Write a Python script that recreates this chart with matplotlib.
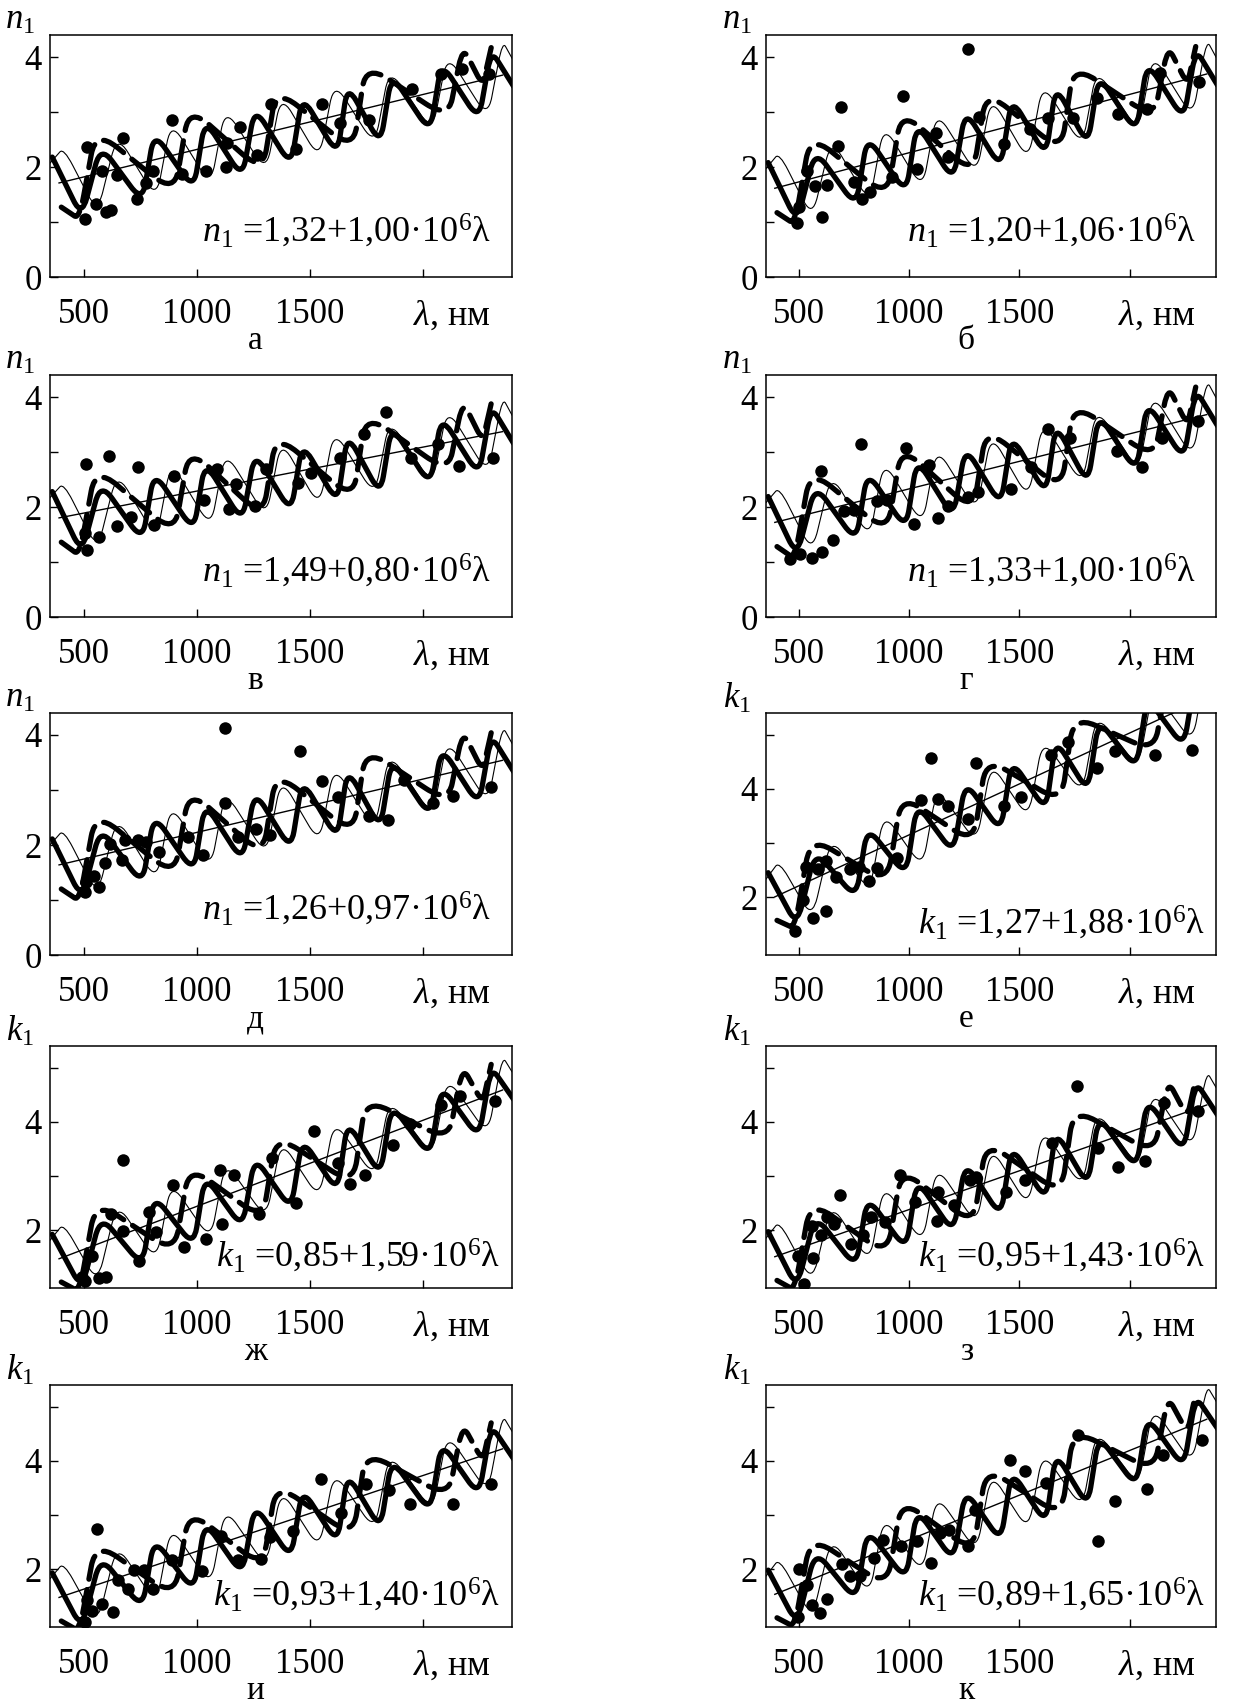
import numpy as np
import matplotlib
matplotlib.use("Agg")
import matplotlib.pyplot as plt
from matplotlib.path import Path
from matplotlib.patches import PathPatch

plt.rcParams['font.family'] = ['Liberation Serif', 'DejaVu Serif']
plt.rcParams['mathtext.fontset'] = 'custom'
plt.rcParams['mathtext.rm'] = 'Liberation Serif'
plt.rcParams['mathtext.it'] = 'Liberation Serif:italic'

# turning points (wavelength, nm) of the three model curves, same for every panel
LAM_SOLID = [360, 490, 574, 758, 810, 985, 1035, 1200, 1255, 1415, 1465, 1620, 1665, 1810, 1860, 2030, 2080, 2245, 2300, 2400]
LAM_THIN = [350, 410, 560, 646, 820, 885, 1060, 1125, 1305, 1372, 1540, 1606, 1785, 1850, 2040, 2106, 2285, 2350, 2400]
LAM_DASH = [400, 480, 552, 900, 965, 1290, 1350, 1690, 1746, 2110, 2174, 2262, 2300]
# range of the fitted straight line
FIT_RANGE = [390, 2350]

# ---- а ----
fit_a = (1.32, 1.00)
solid_a = [2.18, 1.09, 2.39, 1.36, 2.63, 1.59, 2.86, 1.80, 3.08, 2.02, 3.29, 2.22, 3.49, 2.41, 3.68, 2.63, 3.90, 2.85, 4.12, 3.46]
thin_a = [2.07, 2.35, 1.16, 2.59, 1.42, 2.83, 1.66, 3.07, 1.91, 3.31, 2.14, 3.55, 2.39, 3.79, 2.64, 4.05, 2.89, 4.29, 3.92]
dash_a = [1.27, 1.05, 2.67, 1.52, 3.09, 1.91, 3.42, 2.31, 3.87, 2.88, 4.19, 3.48, 4.17]
pts_lam_a = [515, 504, 552, 581, 596, 618, 647, 673, 736, 773, 805, 888, 935, 1038, 1127, 1131, 1189, 1267, 1326, 1437, 1552, 1631, 1761, 1950, 2078, 2171, 2289]
pts_a = [2.36, 1.06, 1.33, 1.93, 1.18, 1.21, 1.85, 2.52, 1.42, 1.71, 1.93, 2.85, 1.88, 1.92, 2.00, 2.44, 2.73, 2.21, 3.14, 2.33, 3.14, 2.80, 2.85, 3.41, 3.70, 3.79, 3.70]

# ---- б ----
fit_b = (1.20, 1.06)
solid_b = [2.08, 1.00, 2.31, 1.28, 2.56, 1.52, 2.80, 1.75, 3.03, 1.98, 3.25, 2.20, 3.47, 2.40, 3.67, 2.63, 3.91, 2.86, 4.14, 3.48]
thin_b = [1.97, 2.26, 1.07, 2.51, 1.35, 2.76, 1.60, 3.01, 1.86, 3.27, 2.11, 3.52, 2.37, 3.78, 2.64, 4.05, 2.90, 4.31, 3.94]
dash_b = [1.17, 0.96, 2.59, 1.45, 3.02, 1.87, 3.38, 2.29, 3.85, 2.89, 4.20, 3.50, 4.19]
pts_lam_b = [492, 502, 535, 573, 603, 626, 675, 690, 751, 786, 824, 923, 972, 1037, 1121, 1174, 1265, 1318, 1429, 1546, 1630, 1744, 1851, 1946, 2079, 2140, 2315]
pts_b = [0.98, 1.28, 1.93, 1.65, 1.09, 1.67, 2.38, 3.09, 1.73, 1.41, 1.55, 1.82, 3.29, 1.96, 2.61, 2.18, 4.15, 2.91, 2.41, 2.70, 2.90, 2.90, 3.25, 2.97, 3.06, 3.71, 3.55]

# ---- в ----
fit_v = (1.49, 0.80)
solid_v = [2.28, 1.16, 2.45, 1.38, 2.64, 1.56, 2.82, 1.73, 2.99, 1.90, 3.16, 2.07, 3.32, 2.22, 3.48, 2.39, 3.65, 2.57, 3.83, 3.15]
thin_v = [2.17, 2.44, 1.22, 2.63, 1.43, 2.82, 1.62, 3.01, 1.81, 3.21, 2.00, 3.40, 2.20, 3.59, 2.40, 3.80, 2.60, 3.99, 3.61]
dash_v = [1.36, 1.12, 2.73, 1.51, 3.06, 1.82, 3.32, 2.14, 3.69, 2.63, 3.93, 3.20, 3.88]
pts_lam_v = [504, 510, 515, 566, 611, 648, 707, 740, 810, 898, 1031, 1090, 1142, 1171, 1257, 1304, 1448, 1503, 1631, 1739, 1835, 1946, 2064, 2159, 2307]
pts_v = [1.52, 2.79, 1.21, 1.45, 2.93, 1.65, 1.82, 2.72, 1.67, 2.57, 2.13, 2.69, 1.96, 2.42, 2.02, 2.69, 2.43, 2.61, 2.89, 3.32, 3.73, 2.89, 3.15, 2.75, 2.89]

# ---- г ----
fit_g = (1.33, 1.00)
solid_g = [2.19, 1.10, 2.40, 1.37, 2.64, 1.60, 2.87, 1.81, 3.09, 2.03, 3.30, 2.23, 3.50, 2.42, 3.69, 2.64, 3.91, 2.86, 4.13, 3.47]
thin_g = [2.08, 2.36, 1.17, 2.60, 1.43, 2.84, 1.67, 3.08, 1.92, 3.32, 2.15, 3.56, 2.40, 3.80, 2.65, 4.06, 2.90, 4.30, 3.93]
dash_g = [1.28, 1.06, 2.68, 1.53, 3.10, 1.92, 3.43, 2.32, 3.88, 2.89, 4.20, 3.49, 4.18]
pts_lam_g = [459, 505, 558, 599, 603, 654, 702, 751, 783, 854, 897, 984, 1022, 1090, 1131, 1177, 1265, 1311, 1463, 1554, 1630, 1729, 1942, 2056, 2147, 2311]
pts_g = [1.06, 1.14, 1.08, 2.66, 1.18, 1.40, 1.93, 1.95, 3.14, 2.11, 2.13, 3.08, 1.70, 2.77, 1.80, 2.01, 2.18, 2.27, 2.33, 2.72, 3.41, 3.26, 3.02, 2.72, 3.26, 3.56]

# ---- д ----
fit_d = (1.26, 0.97)
solid_d = [2.11, 1.02, 2.32, 1.28, 2.55, 1.50, 2.76, 1.70, 2.98, 1.91, 3.18, 2.11, 3.38, 2.30, 3.56, 2.51, 3.78, 2.72, 3.99, 3.33]
thin_d = [2.00, 2.28, 1.08, 2.51, 1.34, 2.74, 1.57, 2.97, 1.81, 3.21, 2.03, 3.44, 2.27, 3.68, 2.52, 3.92, 2.76, 4.16, 3.79]
dash_d = [1.20, 0.98, 2.60, 1.43, 3.00, 1.81, 3.32, 2.20, 3.75, 2.76, 4.07, 3.35, 4.04]
pts_lam_d = [504, 510, 544, 566, 593, 614, 670, 681, 740, 773, 832, 962, 1027, 1124, 1124, 1183, 1260, 1322, 1456, 1552, 1625, 1758, 1842, 1916, 2041, 2133, 2300]
pts_d = [1.15, 1.32, 1.44, 1.23, 1.67, 2.01, 1.72, 2.09, 2.09, 2.05, 1.88, 2.14, 1.82, 4.13, 2.76, 2.15, 2.29, 2.19, 3.70, 3.17, 2.88, 2.53, 2.45, 3.18, 2.76, 2.90, 3.06]

# ---- е ----
fit_e = (1.27, 1.88)
solid_e = [2.45, 1.47, 2.85, 1.98, 3.29, 2.40, 3.72, 2.81, 4.13, 3.21, 4.52, 3.60, 4.90, 3.95, 5.27, 4.37, 5.68, 4.77, 6.09, 5.52]
thin_e = [2.33, 2.66, 1.60, 3.10, 2.09, 3.55, 2.54, 4.01, 3.00, 4.47, 3.45, 4.91, 3.91, 5.37, 4.39, 5.85, 4.85, 6.31, 5.98]
dash_e = [1.57, 1.42, 3.11, 2.26, 3.88, 3.00, 4.56, 3.75, 5.35, 4.69, 6.06, 5.42, 6.14]
pts_lam_e = [482, 517, 532, 565, 584, 623, 623, 669, 733, 771, 816, 854, 946, 1055, 1101, 1131, 1177, 1265, 1303, 1429, 1505, 1645, 1721, 1851, 1934, 2114, 2281]
pts_e = [1.38, 1.95, 2.55, 1.62, 2.52, 2.67, 1.74, 2.37, 2.52, 2.55, 2.30, 2.54, 2.73, 3.79, 4.57, 3.82, 3.68, 3.44, 4.48, 3.68, 3.84, 4.63, 4.87, 4.39, 4.69, 4.62, 4.72]

# ---- ж ----
fit_zh = (0.85, 1.59)
solid_zh = [1.92, 0.91, 2.26, 1.34, 2.64, 1.70, 3.00, 2.04, 3.35, 2.38, 3.68, 2.71, 4.00, 3.01, 4.31, 3.36, 4.66, 3.70, 5.01, 4.41]
thin_zh = [1.81, 2.12, 1.02, 2.50, 1.43, 2.88, 1.82, 3.26, 2.21, 3.65, 2.58, 4.02, 2.97, 4.41, 3.37, 4.82, 3.76, 5.21, 4.87]
dash_zh = [1.04, 0.86, 2.53, 1.58, 3.18, 2.20, 3.75, 2.84, 4.43, 3.66, 5.01, 4.35, 5.06]
pts_lam_zh = [490, 504, 537, 566, 596, 618, 673, 673, 743, 788, 820, 894, 942, 1038, 1100, 1109, 1164, 1274, 1333, 1437, 1518, 1621, 1676, 1743, 1867, 1941, 2078, 2162, 2319]
pts_zh = [1.13, 1.06, 1.52, 1.12, 1.14, 2.30, 3.29, 1.99, 1.43, 2.34, 1.97, 2.84, 1.69, 1.83, 3.11, 2.11, 3.01, 2.30, 3.34, 2.50, 3.83, 3.24, 2.86, 3.01, 3.58, 3.96, 4.31, 4.48, 4.39]

# ---- з ----
fit_z = (0.95, 1.43)
solid_z = [1.97, 0.93, 2.27, 1.31, 2.61, 1.64, 2.93, 1.95, 3.25, 2.25, 3.55, 2.55, 3.83, 2.82, 4.11, 3.13, 4.42, 3.44, 4.74, 4.12]
thin_z = [1.85, 2.16, 1.03, 2.49, 1.40, 2.84, 1.75, 3.18, 2.10, 3.53, 2.43, 3.87, 2.78, 4.22, 3.15, 4.58, 3.50, 4.93, 4.58]
dash_z = [1.07, 0.89, 2.54, 1.54, 3.13, 2.10, 3.63, 2.67, 4.25, 3.42, 4.76, 4.09, 4.79]
pts_lam_z = [497, 523, 558, 562, 599, 629, 657, 687, 736, 791, 827, 892, 958, 1025, 1128, 1131, 1201, 1277, 1303, 1440, 1527, 1648, 1759, 1858, 1949, 2071, 2155, 2311]
pts_z = [1.52, 1.00, 2.07, 1.48, 1.91, 2.24, 2.11, 2.65, 1.75, 1.91, 2.24, 2.14, 3.01, 2.51, 2.16, 2.70, 2.47, 2.93, 2.98, 2.70, 2.93, 3.60, 4.66, 3.52, 3.17, 3.27, 4.35, 4.20]

# ---- и ----
fit_i = (0.93, 1.40)
solid_i = [1.93, 0.90, 2.23, 1.27, 2.56, 1.59, 2.88, 1.89, 3.19, 2.19, 3.48, 2.48, 3.76, 2.74, 4.03, 3.05, 4.34, 3.35, 4.65, 4.03]
thin_i = [1.82, 2.12, 0.99, 2.45, 1.36, 2.79, 1.69, 3.13, 2.04, 3.47, 2.37, 3.80, 2.71, 4.14, 3.07, 4.50, 3.41, 4.84, 4.49]
dash_i = [1.04, 0.85, 2.50, 1.49, 3.08, 2.04, 3.57, 2.60, 4.17, 3.33, 4.67, 4.00, 4.70]
pts_lam_i = [504, 515, 537, 559, 581, 628, 652, 696, 721, 766, 805, 888, 1021, 1105, 1183, 1282, 1322, 1425, 1547, 1636, 1746, 1847, 1941, 2130, 2300]
pts_i = [1.03, 1.43, 1.23, 2.74, 1.35, 1.21, 1.80, 1.63, 1.98, 1.98, 1.63, 2.17, 1.96, 2.62, 2.17, 2.18, 2.60, 2.70, 3.66, 3.03, 3.58, 3.46, 3.21, 3.21, 3.58]

# ---- к ----
fit_k = (0.89, 1.65)
solid_k = [1.98, 0.98, 2.34, 1.42, 2.73, 1.80, 3.10, 2.15, 3.46, 2.51, 3.81, 2.84, 4.14, 3.16, 4.46, 3.52, 4.82, 3.87, 5.19, 4.59]
thin_k = [1.87, 2.19, 1.09, 2.58, 1.52, 2.97, 1.92, 3.37, 2.32, 3.77, 2.71, 4.16, 3.12, 4.56, 3.54, 4.99, 3.94, 5.39, 5.05]
dash_k = [1.10, 0.93, 2.60, 1.68, 3.28, 2.32, 3.87, 2.98, 4.57, 3.82, 5.18, 4.52, 5.24]
pts_lam_k = [497, 502, 538, 558, 593, 626, 695, 733, 775, 839, 882, 961, 1037, 1101, 1140, 1181, 1265, 1299, 1455, 1527, 1622, 1767, 1858, 1934, 2079, 2150, 2327]
pts_k = [1.12, 2.00, 1.71, 1.33, 1.18, 1.45, 2.09, 1.88, 1.87, 2.21, 2.53, 2.42, 2.52, 2.12, 2.67, 2.73, 2.42, 3.10, 4.01, 3.82, 3.59, 4.48, 2.52, 3.26, 3.48, 4.11, 4.38]

# letter, quantity, fit, solid, thin, dashed, points lam, points value
panels = [
    ("а", "n", fit_a, solid_a, thin_a, dash_a, pts_lam_a, pts_a),
    ("б", "n", fit_b, solid_b, thin_b, dash_b, pts_lam_b, pts_b),
    ("в", "n", fit_v, solid_v, thin_v, dash_v, pts_lam_v, pts_v),
    ("г", "n", fit_g, solid_g, thin_g, dash_g, pts_lam_g, pts_g),
    ("д", "n", fit_d, solid_d, thin_d, dash_d, pts_lam_d, pts_d),
    ("е", "k", fit_e, solid_e, thin_e, dash_e, pts_lam_e, pts_e),
    ("ж", "k", fit_zh, solid_zh, thin_zh, dash_zh, pts_lam_zh, pts_zh),
    ("з", "k", fit_z, solid_z, thin_z, dash_z, pts_lam_z, pts_z),
    ("и", "k", fit_i, solid_i, thin_i, dash_i, pts_lam_i, pts_i),
    ("к", "k", fit_k, solid_k, thin_k, dash_k, pts_lam_k, pts_k),
]


def wave(ax, xs, ys, lw, ls="-", rnd=0.27):
    # polyline through the turning points with rounded (quadratic bezier) corners
    verts = [(xs[0], ys[0])]
    codes = [Path.MOVETO]
    for i in range(1, len(xs) - 1):
        x0, y0 = xs[i - 1], ys[i - 1]
        x1, y1 = xs[i], ys[i]
        x2, y2 = xs[i + 1], ys[i + 1]
        verts += [(x1 + rnd * (x0 - x1), y1 + rnd * (y0 - y1)), (x1, y1),
                  (x1 + rnd * (x2 - x1), y1 + rnd * (y2 - y1))]
        codes += [Path.LINETO, Path.CURVE3, Path.CURVE3]
    verts.append((xs[-1], ys[-1]))
    codes.append(Path.LINETO)
    p = PathPatch(Path(verts, codes), fill=False, lw=lw, ls=ls, edgecolor="k",
                  capstyle="round", joinstyle="round")
    ax.add_patch(p)


W, H = 1238, 1703
fig = plt.figure(figsize=(W / 100, H / 100), dpi=100)

col_x = [(50, 462), (766, 450)]
row_bottom = [277, 617, 955, 1288, 1627]
ax_h = 242

for idx, (letter, q, fit, solid, thin, dash, plam, pval) in enumerate(panels):
    # panels run left to right, top to bottom
    row, col = idx // 2, idx % 2
    x0, w = col_x[col]
    ax = fig.add_axes([x0 / W, 1 - row_bottom[row] / H, w / W, ax_h / H])

    wave(ax, LAM_THIN, thin, 0.8)
    wave(ax, LAM_SOLID, solid, 3.8)
    wave(ax, LAM_DASH, dash, 3.8, ls=(0, (4.5, 2.0)))

    b0, b1 = fit
    fx = np.array(FIT_RANGE, dtype=float)
    ax.plot(fx, b0 + b1 * 1e-3 * fx, color="k", lw=1.0)
    ax.plot(plam, pval, "o", color="k", ms=9, mew=0)

    ax.set_xlim(350, 2392)
    ax.set_xticks([500, 1000, 1500, 2000])
    ax.set_xticklabels(["500", "1000", "1500", ""])
    if q == "n":
        ax.set_ylim(0, 4.4)
        ax.set_yticks([0, 1, 2, 3, 4])
        ax.set_yticklabels(["0", "", "2", "", "4"])
    else:
        ax.set_ylim(0.93, 5.4)
        ax.set_yticks([2, 3, 4, 5])
        ax.set_yticklabels(["2", "", "4", ""])
    ax.tick_params(direction="in", length=6, width=1.0, labelsize=25)
    ax.tick_params(axis="x", pad=15)
    ax.tick_params(axis="y", pad=6)
    for s in ax.spines.values():
        s.set_linewidth(1.1)

    ax.text(-0.065, 1.06, "$\\mathit{%s}_1$" % q, transform=ax.transAxes,
            ha="center", va="center", fontsize=25)
    ax.text(0.955, -0.16, "$\\mathit{\\lambda}$, нм", transform=ax.transAxes,
            ha="right", va="center", fontsize=26)
    ax.text(0.445, -0.265, letter, transform=ax.transAxes,
            ha="center", va="center", fontsize=24)

    c0 = f"{b0:.2f}".replace(".", ",")
    c1 = f"{b1:.2f}".replace(".", ",")
    eq = "$\\mathit{%s}_1$ =%s+%s·10$^6$λ" % (q, c0, c1)
    if q == "n":
        ax.text(0.955, 0.19, eq, transform=ax.transAxes, ha="right",
                va="center", fontsize=26)
    else:
        ax.text(0.975, 0.135, eq, transform=ax.transAxes, ha="right",
                va="center", fontsize=26)

fig.savefig("out.png", dpi=100)
